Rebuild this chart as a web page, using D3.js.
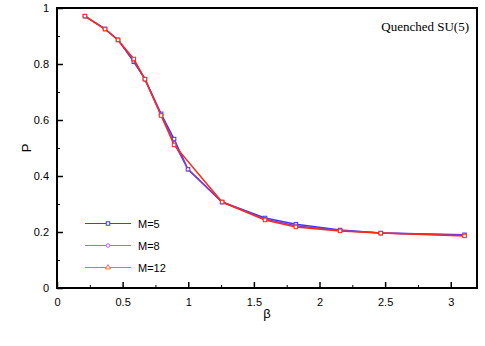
<!DOCTYPE html>
<html><head><meta charset="utf-8">
<script src="https://cdn.jsdelivr.net/npm/d3@7/dist/d3.min.js"></script>
<style>body{margin:0;background:#fff}svg{display:block}</style>
</head><body><svg id="c" width="485" height="346"></svg>
<script>
const beta5 = [0.213, 0.366, 0.465, 0.585, 0.67, 0.793, 0.892, 0.998, 1.258, 1.585, 1.82, 2.157, 2.467, 3.105];
const p5    = [0.971, 0.925, 0.886, 0.808, 0.746, 0.622, 0.532, 0.424, 0.307, 0.250, 0.228, 0.207, 0.196, 0.190];
const beta8 = [0.213, 0.366, 0.465, 0.585, 0.67, 0.793, 0.892, 0.998, 1.258, 1.585, 1.82, 2.157, 2.467, 3.105];
const p8    = [0.971, 0.925, 0.886, 0.813, 0.746, 0.618, 0.518, 0.424, 0.307, 0.246, 0.222, 0.205, 0.196, 0.188];
const beta12 = [0.213, 0.366, 0.465, 0.585, 0.67, 0.793, 0.892, 1.258, 1.585, 1.82, 2.157, 2.467, 3.105];
const p12    = [0.971, 0.925, 0.886, 0.818, 0.746, 0.616, 0.511, 0.307, 0.243, 0.218, 0.204, 0.196, 0.186];
const seriesNames = ["M=5", "M=8", "M=12"];
const xTicks = [0, 0.5, 1, 1.5, 2, 2.5, 3];
const yTicks = [0, 0.2, 0.4, 0.6, 0.8, 1];
const xMinor = [0.25, 0.75, 1.25, 1.75, 2.25, 2.75];
const yMinor = [0.1, 0.3, 0.5, 0.7, 0.9];

const svg = d3.select("#c");
const L = 57, R = 477, T = 8, B = 288;
const x = d3.scaleLinear().domain([0, 3.2]).range([L, R]);
const y = d3.scaleLinear().domain([0, 1]).range([B, T]);

const series = [
  {name: seriesNames[0], xs: beta5, ys: p5, color: "#3838ff", lcolor: "#2f44f0", shape: "square"},
  {name: seriesNames[1], xs: beta8, ys: p8, color: "#8a3cc8", lcolor: "#b868d0", shape: "circle"},
  {name: seriesNames[2], xs: beta12, ys: p12, color: "#ff2a14", lcolor: "#ff6a4a", shape: "triangle"}
];

function marker(g, shape, cx, cy, color, s) {
  if (shape === "square") {
    g.append("rect").attr("x", cx - s/2).attr("y", cy - s/2).attr("width", s).attr("height", s)
      .attr("fill", "#fff").attr("stroke", color).attr("stroke-width", 1);
  } else if (shape === "circle") {
    g.append("circle").attr("cx", cx).attr("cy", cy).attr("r", s/2)
      .attr("fill", "#fff").attr("stroke", color).attr("stroke-width", 1);
  } else {
    const sym = d3.symbol().type(d3.symbolTriangle).size(s*s*0.9);
    g.append("path").attr("transform", `translate(${cx},${cy})`).attr("d", sym())
      .attr("fill", "#fff").attr("stroke", color).attr("stroke-width", 1);
  }
}

const line = d3.line().x(d => x(d[0])).y(d => y(d[1]));
series.forEach(s => {
  const pts = s.xs.map((v, i) => [v, s.ys[i]]);
  const g = svg.append("g");
  g.append("path").attr("d", line(pts)).attr("fill", "none").attr("stroke", s.color).attr("stroke-width", 1.5);
  pts.forEach(p => {
    const shape = s.shape === "triangle" ? "square" : s.shape;
    marker(g, shape, x(p[0]), y(p[1]), s.color, 3.5);
  });
});

// axes
const xAxis = d3.axisBottom(x).tickValues(xTicks).tickSize(-6).tickPadding(10).tickFormat(d3.format("~g"));
const gx = svg.append("g").attr("transform", `translate(0,${B})`).call(xAxis);
const yAxis = d3.axisLeft(y).tickValues(yTicks).tickSize(-6).tickPadding(8).tickFormat(d3.format("~g"));
const gy = svg.append("g").attr("transform", `translate(${L},0)`).call(yAxis);
[gx, gy].forEach(g => {
  g.select(".domain").remove();
  g.selectAll(".tick line").attr("stroke", "#000").attr("stroke-width", 1.5);
  g.selectAll(".tick text").attr("font-family", "Liberation Sans, Arial, sans-serif").attr("font-size", 11).attr("fill", "#000");
});
svg.append("g").attr("transform", `translate(0,${B})`)
  .call(d3.axisBottom(x).tickValues(xMinor).tickSize(-3).tickFormat(""))
  .call(g => { g.select(".domain").remove(); g.selectAll("line").attr("stroke", "#000"); });
svg.append("g").attr("transform", `translate(${L},0)`)
  .call(d3.axisLeft(y).tickValues(yMinor).tickSize(-3).tickFormat(""))
  .call(g => { g.select(".domain").remove(); g.selectAll("line").attr("stroke", "#000"); });

// frame
svg.append("rect").attr("x", L).attr("y", T).attr("width", R - L).attr("height", B - T)
  .attr("fill", "none").attr("stroke", "#000").attr("stroke-width", 2);

// axis titles
svg.append("text").attr("x", (L + R) / 2).attr("y", 318).attr("text-anchor", "middle")
  .attr("font-family", "Liberation Sans, Arial, sans-serif").attr("font-size", 13).text("β");
svg.append("text").attr("transform", `translate(31,${(T + B) / 2}) rotate(-90)`).attr("text-anchor", "middle")
  .attr("font-family", "Liberation Sans, Arial, sans-serif").attr("font-size", 13).text("P");

// annotation
svg.append("text").attr("x", 469).attr("y", 31).attr("text-anchor", "end")
  .attr("font-family", "Liberation Serif, Times New Roman, serif").attr("font-size", 13).text("Quenched SU(5)");

// legend
const legY = [223.5, 245.5, 267.5];
series.forEach((s, i) => {
  const g = svg.append("g");
  g.append("line").attr("x1", 85).attr("x2", 131).attr("y1", legY[i]).attr("y2", legY[i])
    .attr("stroke", s.lcolor).attr("stroke-width", 1);
  marker(g, s.shape, 108, legY[i], s.lcolor, 3.5);
  g.append("text").attr("x", 138).attr("y", legY[i] + 4).attr("font-family", "Liberation Sans, Arial, sans-serif")
    .attr("font-size", 11).text(s.name);
});
</script></body></html>
